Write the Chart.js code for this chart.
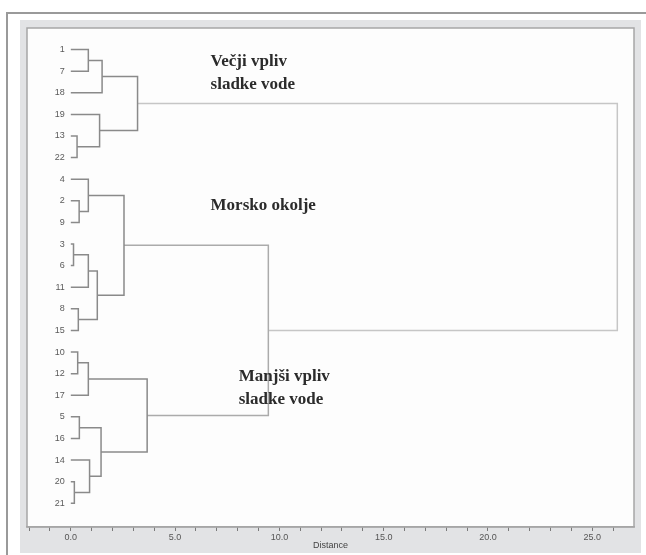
<!DOCTYPE html>
<html>
<head>
<meta charset="utf-8">
<script src="https://cdn.jsdelivr.net/npm/chart.js@4.4.1/dist/chart.umd.min.js"></script>
<style>
  html, body { margin: 0; padding: 0; background: #fff; }
  canvas { display: block; }
</style>
</head>
<body>
<canvas id="canDendro" width="646" height="555"></canvas>
<script>
// leaves in the order they are drawn, top to bottom
const leafLabels = ['1', '7', '18', '19', '13', '22', '4', '2', '9', '3', '6', '11', '8', '15', '10', '12', '17', '5', '16', '14', '20', '21']

// joins: a string is a leaf, a number points to an earlier join
const joinLeft = ['1', 0, '13', '19', 1, '2', '4', '3', 7, '8', 8, 6, '10', 12, '5', '20', '14', 14, 13, 11, 4]
const joinRight = ['7', '18', '22', 2, 3, '9', 5, '6', '11', '15', 9, 10, '12', '17', '16', '21', 15, 16, 17, 18, 19]
const joinDistance = [0.84, 1.5, 0.3, 1.38, 3.2, 0.4, 0.84, 0.13, 0.84, 0.36, 1.27, 2.55, 0.33, 0.84, 0.41, 0.17, 0.9, 1.45, 3.66, 9.47, 26.2]

const majorTicks = [0, 5, 10, 15, 20, 25]
const groupNames = [['Večji vpliv', 'sladke vode'], ['Morsko okolje'], ['Manjši vpliv', 'sladke vode']]

const narrow = '"Liberation Sans Narrow", "Arial Narrow", Arial, sans-serif'

const nodeX = ref => typeof ref === 'string' ? 0 : joinDistance[ref]
const nodeY = ref => typeof ref === 'string'
  ? leafLabels.indexOf(ref)
  : (nodeY(joinLeft[ref]) + nodeY(joinRight[ref])) / 2

const datasets = joinDistance.map((d, i) => {
  const a = joinLeft[i]
  const b = joinRight[i]
  return {
    data: [
      { x: nodeX(a), y: nodeY(a) },
      { x: d, y: nodeY(a) },
      { x: d, y: nodeY(b) },
      { x: nodeX(b), y: nodeY(b) }
    ],
    showLine: true,
    borderColor: d > 20 ? '#c6c6c6' : d > 5 ? '#ababab' : '#8a8a8a',
    borderWidth: 1.5,
    pointRadius: 0,
    tension: 0
  }
})

// window frame, grey band and plot box
const frame = {
  id: 'frame',
  beforeDraw (chart) {
    const { ctx, width, height, chartArea: a } = chart
    ctx.save()
    ctx.fillStyle = '#ffffff'
    ctx.fillRect(0, 0, width, height)
    ctx.strokeStyle = '#9a9a9a'
    ctx.lineWidth = 2
    ctx.beginPath()
    ctx.moveTo(7, height)
    ctx.lineTo(7, 13)
    ctx.lineTo(width, 13)
    ctx.stroke()
    ctx.fillStyle = '#e2e3e5'
    ctx.fillRect(20, 20, width - 25, height - 22)
    ctx.fillStyle = '#fdfdfd'
    ctx.fillRect(a.left, a.top, a.width, a.height)
    ctx.strokeStyle = '#a6a6a6'
    ctx.lineWidth = 1.5
    ctx.strokeRect(a.left, a.top, a.width, a.height)
    ctx.restore()
  }
}

// leaf names and group captions
const groupAt = [[6.7, 0.57], [6.7, 7.24], [8.05, 15.16]]
const labels = {
  id: 'labels',
  afterDatasetsDraw (chart) {
    const { ctx, scales: { x, y } } = chart
    ctx.save()
    ctx.font = '9px ' + narrow
    ctx.fillStyle = '#5a5a5a'
    ctx.textAlign = 'right'
    ctx.textBaseline = 'middle'
    leafLabels.forEach((name, i) => {
      ctx.fillText(name, x.getPixelForValue(0) - 6, y.getPixelForValue(i))
    })
    ctx.font = 'bold 17px "Liberation Serif", "Times New Roman", serif'
    ctx.fillStyle = '#2b2b2b'
    ctx.textAlign = 'left'
    groupNames.forEach((lines, g) => {
      lines.forEach((line, k) => {
        ctx.fillText(line, x.getPixelForValue(groupAt[g][0]), y.getPixelForValue(groupAt[g][1]) + k * 23)
      })
    })
    ctx.restore()
  }
}

const cDendro = document.getElementById('canDendro')

new Chart(cDendro, {
  type: 'scatter',
  data: { datasets },
  options: {
    responsive: false,
    animation: false,
    events: [],
    layout: { padding: { left: 27, top: 28, right: 12, bottom: 2 } },
    plugins: {
      legend: { display: false },
      tooltip: { enabled: false }
    },
    scales: {
      x: {
        type: 'linear',
        min: -2.1,
        max: 27,
        afterBuildTicks (scale) {
          const ticks = []
          for (let v = -2; v <= 26; v++) ticks.push({ value: v })
          scale.ticks = ticks
        },
        afterFit (scale) {
          scale.height = 26
        },
        grid: { drawOnChartArea: false, drawTicks: true, tickLength: 4, color: '#7a7a7a' },
        border: { display: true, color: '#a6a6a6', width: 1.5 },
        ticks: {
          autoSkip: false,
          maxRotation: 0,
          padding: 1,
          color: '#555',
          font: { family: narrow, size: 9 },
          callback: v => majorTicks.includes(v) ? v.toFixed(1) : ''
        },
        title: {
          display: true,
          text: 'Distance',
          color: '#444',
          font: { family: narrow, size: 9 },
          padding: { top: 0, bottom: 2 }
        }
      },
      y: {
        type: 'linear',
        display: false,
        reverse: true,
        min: -1,
        max: 22.1
      }
    }
  },
  plugins: [frame, labels]
})
</script>
</body>
</html>
